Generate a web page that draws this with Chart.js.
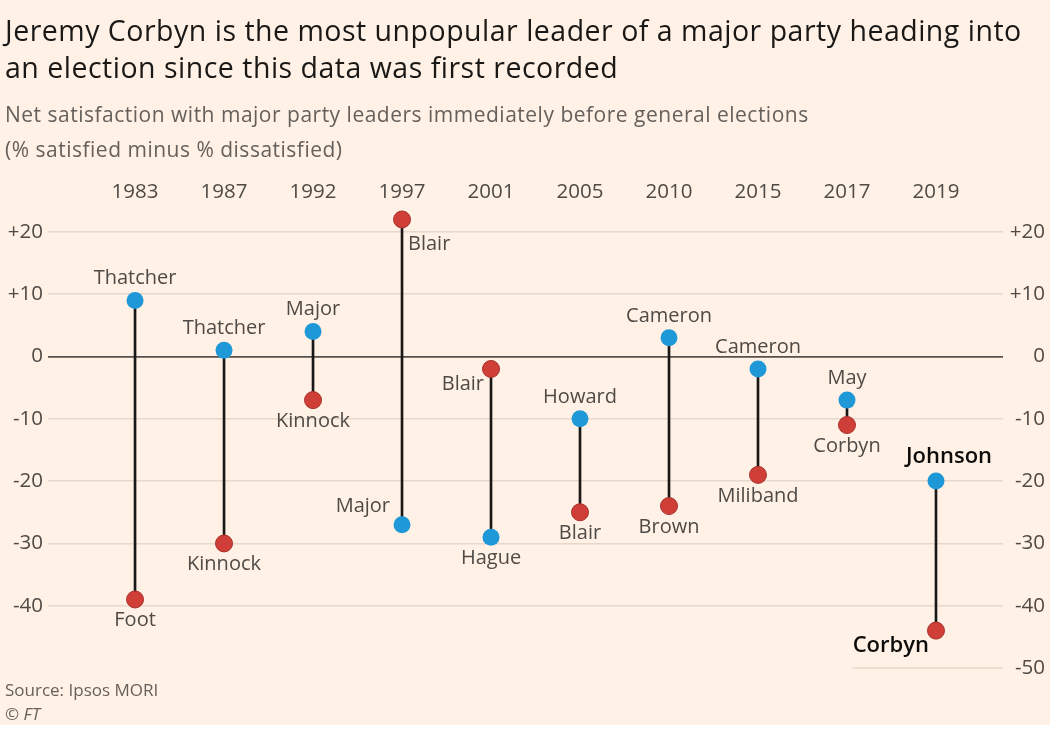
<!DOCTYPE html>
<html>
<head>
<meta charset="utf-8">
<script src="https://cdn.jsdelivr.net/npm/chart.js@4.4.1/dist/chart.umd.min.js"></script>
<style>
  html, body { margin: 0; padding: 0; background: #ffffff; }
  #wrap { position: relative; width: 1050px; height: 725px; background: #FFF1E5; overflow: hidden; }
  #c { position: absolute; left: 0; top: 0; }
  .t { position: absolute; left: 5px; white-space: nowrap; font-family: "Open Sans", "Noto Sans", sans-serif; }
  #title { top: 12px; font-size: 28.5px; line-height: 37px; color: #1a1817; letter-spacing: 0.5px; }
  #sub { top: 97px; font-size: 21px; line-height: 35px; color: #66605C; letter-spacing: 0.5px; }
  #src { top: 678px; font-size: 17px; line-height: 24px; color: #66605C; }
</style>
</head>
<body>
<div id="wrap">
  <canvas id="c" width="1050" height="725"></canvas>
  <div class="t" id="title">Jeremy Corbyn is the most unpopular leader of a major party heading into<br>an election since this data was first recorded</div>
  <div class="t" id="sub">Net satisfaction with major party leaders immediately before general elections<br>(% satisfied minus % dissatisfied)</div>
  <div class="t" id="src">Source: Ipsos MORI<br><i>© FT</i></div>
</div>
<script>
// ---- data ----
const years = ['1983','1987','1992','1997','2001','2005','2010','2015','2017','2019'];
const conLeaders = ['Thatcher','Thatcher','Major','Major','Hague','Howard','Cameron','Cameron','May','Johnson'];
const conValues  = [9, 1, 4, -27, -29, -10, 3, -2, -7, -20];
const labLeaders = ['Foot','Kinnock','Kinnock','Blair','Blair','Blair','Brown','Miliband','Corbyn','Corbyn'];
const labValues  = [-39, -30, -7, 22, -2, -25, -24, -19, -11, -44];
const leftTicks  = [-40, -30, -20, -10, 0, 10, 20];
const rightTicks = [-50, -40, -30, -20, -10, 0, 10, 20];
// label placement relative to the dot
const conPlace = ['above','above','above','leftAbove','below','above','above','above','above','aboveRight'];
const labPlace = ['below','below','below','rightBelow','leftBelow','below','below','below','below','leftBelow'];
const highlight = [false,false,false,false,false,false,false,false,false,true];

const BLUE = '#1E98D7', RED = '#CF3F38', RED_EDGE = '#A8302A';
const FONT = '"Open Sans", "Noto Sans", sans-serif';

const labelPlugin = {
  id: 'leaderLabels',
  afterDatasetsDraw(chart) {
    const ctx = chart.ctx, xs = chart.scales.x, ys = chart.scales.y;
    const offsets = {
      above: [0, -22, 'center'],
      aboveRight: [13, -24, 'center'],
      below: [0, 21, 'center'],
      leftAbove: [-12, -18, 'right'],
      leftBelow: [-7, 15, 'right'],
      rightBelow: [6, 25, 'left']
    };
    function draw(name, val, i, place) {
      const px = xs.getPixelForValue(i), py = ys.getPixelForValue(val);
      const o = offsets[place];
      ctx.save();
      if (highlight[i]) {
        ctx.font = '600 22px ' + FONT;
        ctx.fillStyle = '#0d0c0b';
      } else {
        ctx.font = '500 20px ' + FONT;
        ctx.fillStyle = '#4f4a46';
      }
      ctx.textAlign = o[2];
      ctx.textBaseline = 'middle';
      ctx.fillText(name, px + o[0], py + o[1]);
      ctx.restore();
    }
    years.forEach((y, i) => {
      draw(conLeaders[i], conValues[i], i, conPlace[i]);
      draw(labLeaders[i], labValues[i], i, labPlace[i]);
    });
  }
};

const partialGrid = {
  id: 'partialGrid',
  beforeDatasetsDraw(chart) {
    const ctx = chart.ctx, ys = chart.scales.y, xs = chart.scales.x;
    const py = ys.getPixelForValue(-50);
    ctx.save();
    ctx.strokeStyle = '#E6D8CB';
    ctx.lineWidth = 1.5;
    ctx.beginPath();
    ctx.moveTo(xs.getPixelForValue(8.06), py);
    ctx.lineTo(chart.chartArea.right, py);
    ctx.stroke();
    ctx.restore();
  }
};

const idx = years.map((y, i) => i);

new Chart(document.getElementById('c'), {
  data: {
    datasets: [
      {
        type: 'bar',
        data: idx.map(i => ({ x: i, y: [conValues[i], labValues[i]] })),
        backgroundColor: '#1a1817',
        barThickness: 2,
        borderWidth: 0,
        order: 3
      },
      {
        type: 'scatter',
        data: idx.map(i => ({ x: i, y: labValues[i] })),
        backgroundColor: RED,
        borderColor: RED_EDGE,
        borderWidth: 1,
        pointRadius: 8.5,
        pointHoverRadius: 8.5,
        clip: false,
        order: 1
      },
      {
        type: 'scatter',
        data: idx.map(i => ({ x: i, y: conValues[i] })),
        backgroundColor: BLUE,
        borderColor: BLUE,
        borderWidth: 0,
        pointRadius: 8.5,
        pointHoverRadius: 8.5,
        clip: false,
        order: 1
      }
    ]
  },
  options: {
    responsive: false,
    animation: false,
    events: [],
    layout: { padding: { top: 176, bottom: 57, left: 0, right: 5 } },
    plugins: { legend: { display: false }, tooltip: { enabled: false } },
    scales: {
      x: {
        type: 'linear',
        position: 'top',
        min: -0.978,
        max: 9.753,
        offset: false,
        afterBuildTicks(s) { s.ticks = idx.map(i => ({ value: i })); },
        afterFit(s) { s.height = 31; },
        ticks: {
          padding: 3,
          autoSkip: false,
          maxRotation: 0,
          color: '#4f4a46',
          font: { family: FONT, size: 20.5 },
          callback: v => years[v]
        },
        grid: { display: false, drawTicks: false },
        border: { display: false }
      },
      y: {
        position: 'left',
        min: -50,
        max: 24,
        afterBuildTicks(s) { s.ticks = leftTicks.map(v => ({ value: v })); },
        afterFit(s) { s.width = 48; },
        ticks: {
          padding: 5,
          color: '#4f4a46',
          font: { family: FONT, size: 20.5 },
          callback: v => (v > 0 ? '+' + v : String(v))
        },
        grid: {
          drawTicks: false,
          color: c => (c.tick && c.tick.value === 0 ? '#57514d' : '#E6D8CB'),
          lineWidth: c => (c.tick && c.tick.value === 0 ? 1.8 : 1.5)
        },
        border: { display: false }
      },
      y2: {
        position: 'right',
        min: -50,
        max: 24,
        afterBuildTicks(s) { s.ticks = rightTicks.map(v => ({ value: v })); },
        afterFit(s) { s.width = 42; },
        ticks: {
          padding: 5,
          crossAlign: 'far',
          color: '#4f4a46',
          font: { family: FONT, size: 20.5 },
          callback: v => (v > 0 ? '+' + v : String(v))
        },
        grid: { display: false, drawTicks: false },
        border: { display: false }
      }
    }
  },
  plugins: [partialGrid, labelPlugin]
});
</script>
</body>
</html>
